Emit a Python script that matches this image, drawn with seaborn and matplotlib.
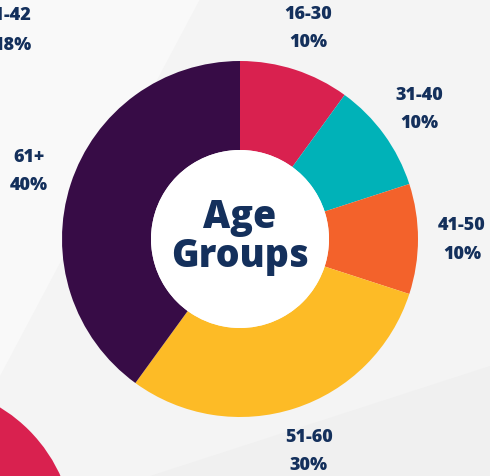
import matplotlib
matplotlib.use("Agg")
import matplotlib.pyplot as plt
import seaborn as sns
from matplotlib.patches import Circle, Polygon

# data
groups = ["16-30", "31-40", "41-50", "51-60", "61+"]
shares = [10, 10, 10, 30, 40]
colors = ["#D9214F", "#00B2B8", "#F3622B", "#FDBB26", "#370C46"]
navy = "#14305C"

sns.set_theme(style="white")
plt.rcParams['font.family'] = ['Open Sans', 'DejaVu Sans']

fig = plt.figure(figsize=(4.9, 4.77), dpi=100)
fig.patch.set_facecolor("#F4F4F4")
ax = fig.add_axes([0, 0, 1, 1])
ax.set_facecolor("#F4F4F4")

# subtle background shapes
ax.add_patch(Polygon([(0, 477), (0, 100), (200, 477)], closed=True,
                     facecolor="#F9F9F9", edgecolor="none", zorder=0))
ax.add_patch(Polygon([(150, 0), (490, 0), (490, 110)], closed=True,
                     facecolor="#F0F0F0", edgecolor="none", zorder=0))
ax.add_patch(Circle((-80, -63), 154, facecolor="#D9214F", edgecolor="none", zorder=1))

labels = [f"{g}\n{s}%" for g, s in zip(groups, shares)]
wedges, texts = ax.pie(shares, colors=colors, startangle=90, counterclock=False,
                       center=(240, 237), radius=178, labels=labels,
                       labeldistance=1.247,
                       wedgeprops=dict(width=89, edgecolor="none"),
                       textprops=dict(color=navy, fontsize=13, fontweight="heavy",
                                      linespacing=1.85))
for t in texts:
    t.set_ha("center")
    t.set_va("center")

ax.add_patch(Circle((240, 237), 89, facecolor="white", edgecolor="none", zorder=3))
ax.text(240, 240, "Age\nGroups", ha="center", va="center", color=navy,
        fontsize=27, fontweight="heavy", linespacing=1.0, zorder=4)

# cropped label from a neighbouring chart
ax.text(31, 462, "41-42", ha="right", va="center", color=navy, fontsize=13, fontweight="heavy")
ax.text(32, 432, "18%", ha="right", va="center", color=navy, fontsize=13, fontweight="heavy")

ax.set_xlim(0, 490)
ax.set_ylim(0, 477)
ax.set_aspect("auto")
ax.axis("off")

fig.savefig("out.png", dpi=100, facecolor=fig.get_facecolor())
